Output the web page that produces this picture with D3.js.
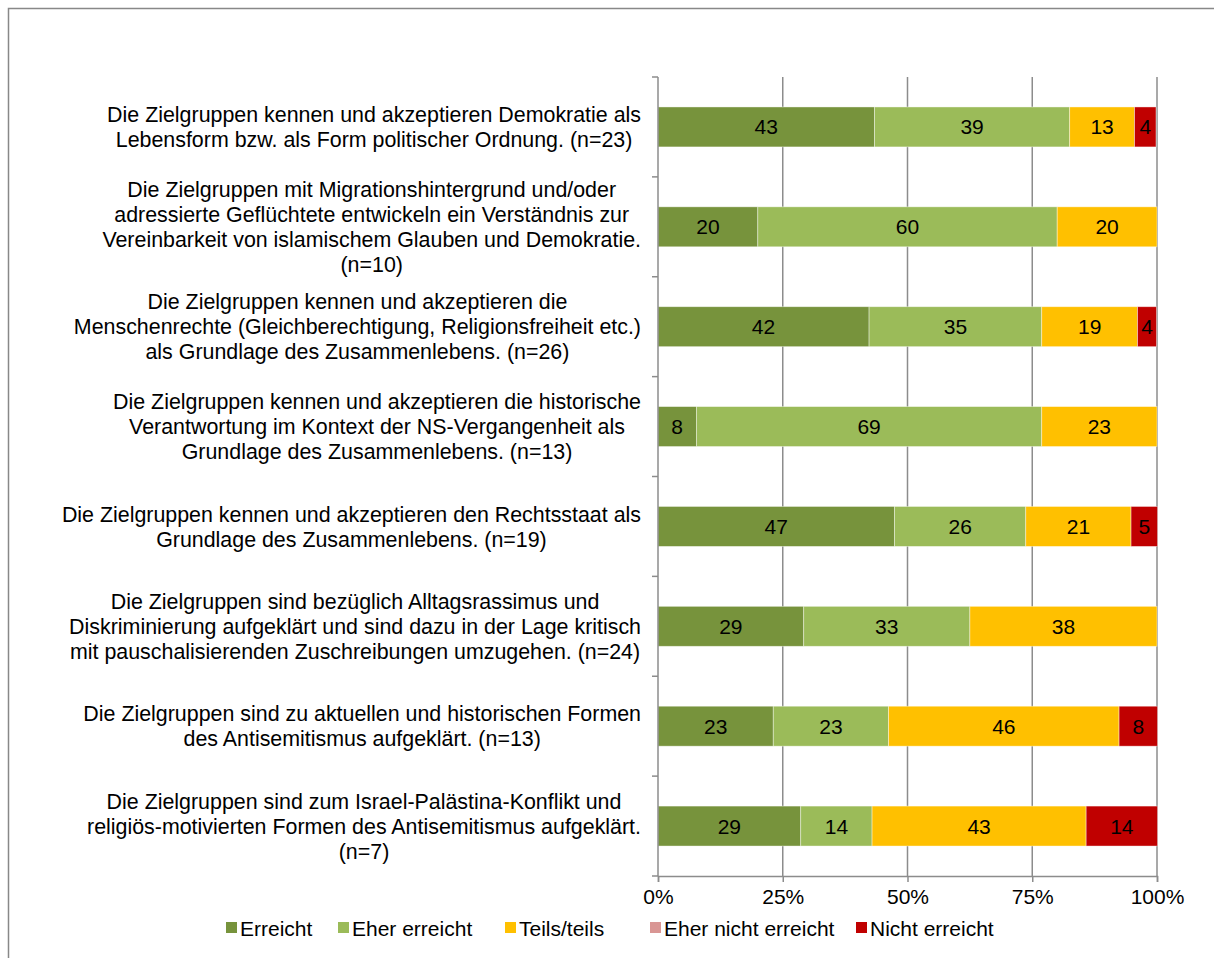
<!DOCTYPE html>
<html>
<head>
<meta charset="utf-8">
<script src="https://cdn.jsdelivr.net/npm/d3@7"></script>
<style>
  body { margin: 0; background: #fff; }
  svg { display: block; font-family: "Liberation Sans", Arial, sans-serif; }
</style>
</head>
<body>
<svg id="chart"></svg>
<script>
// Categories (label lines)
const categories = [
  ["Die Zielgruppen kennen und akzeptieren Demokratie als", "Lebensform bzw. als Form politischer Ordnung. (n=23)"],
  ["Die Zielgruppen mit Migrationshintergrund und/oder", "adressierte Geflüchtete entwickeln ein Verständnis zur", "Vereinbarkeit von islamischem Glauben und Demokratie.", "(n=10)"],
  ["Die Zielgruppen kennen und akzeptieren die", "Menschenrechte (Gleichberechtigung, Religionsfreiheit etc.)", "als Grundlage des Zusammenlebens. (n=26)"],
  ["Die Zielgruppen kennen und akzeptieren die historische", "Verantwortung im Kontext der NS-Vergangenheit als", "Grundlage des Zusammenlebens. (n=13)"],
  ["Die Zielgruppen kennen und akzeptieren den Rechtsstaat als", "Grundlage des Zusammenlebens. (n=19)"],
  ["Die Zielgruppen sind bezüglich Alltagsrassimus und", "Diskriminierung aufgeklärt und sind dazu in der Lage kritisch", "mit pauschalisierenden Zuschreibungen umzugehen. (n=24)"],
  ["Die Zielgruppen sind zu aktuellen und historischen Formen", "des Antisemitismus aufgeklärt. (n=13)"],
  ["Die Zielgruppen sind zum Israel-Palästina-Konflikt und", "religiös-motivierten Formen des Antisemitismus aufgeklärt.", "(n=7)"]
];

// Series values (percent)
const erreicht          = [43.4, 20, 42.3,  7.7, 47.4, 29.2, 23.1, 28.6];
const eherErreicht      = [39.1, 60, 34.6, 69.2, 26.3, 33.3, 23.1, 14.3];
const teilsTeils        = [13.0, 20, 19.2, 23.1, 21.1, 37.5, 46.2, 42.9];
const eherNichtErreicht = [0, 0, 0, 0, 0, 0, 0, 0];
const nichtErreicht     = [4.3, 0, 3.8, 0, 5.3, 0, 7.7, 14.3];

const seriesNames = ["Erreicht", "Eher erreicht", "Teils/teils", "Eher nicht erreicht", "Nicht erreicht"];
const seriesColors = ["#77933C", "#9BBB59", "#FFC000", "#D99694", "#C00000"];
const tickValues = [0, 25, 50, 75, 100];

const W = 1214, H = 958;
const x0 = 658, x1 = 1157, yTop = 77, yBot = 876;
const fs = 21;

const svg = d3.select("#chart").attr("width", W).attr("height", H);

// outer border
svg.append("rect")
  .attr("x", 8.5).attr("y", 8.5)
  .attr("width", W + 10).attr("height", H + 10)
  .attr("fill", "none").attr("stroke", "#888").attr("stroke-width", 1.5);

const rows = categories.map((c, i) => ({
  i, lines: c,
  vals: [erreicht[i], eherErreicht[i], teilsTeils[i], eherNichtErreicht[i], nichtErreicht[i]]
}));

const xScale = d3.scaleLinear().domain([0, 100]).range([x0, x1]);
const yScale = d3.scaleBand().domain(d3.range(categories.length)).range([yTop, yBot])
  .paddingInner(0.6).paddingOuter(0.3);

// gridlines
svg.append("g").selectAll("line")
  .data(tickValues.slice(1))
  .enter().append("line")
  .attr("x1", d => xScale(d)).attr("x2", d => xScale(d))
  .attr("y1", yTop).attr("y2", yBot)
  .attr("stroke", "#8c8c8c").attr("stroke-width", 1.5);

// stacked bars
const stack = d3.stack().keys(d3.range(5)).value((d, k) => d.vals[k]);
const layers = stack(rows);

const g = svg.append("g");
layers.forEach((layer, k) => {
  g.selectAll(".s" + k)
    .data(layer.filter(d => d[1] - d[0] > 0))
    .enter().append("rect")
    .attr("x", d => xScale(d[0]))
    .attr("width", d => xScale(d[1]) - xScale(d[0]))
    .attr("y", d => yScale(d.data.i))
    .attr("height", yScale.bandwidth())
    .attr("fill", seriesColors[k])
    .attr("stroke", "#fff").attr("stroke-opacity", 0.5).attr("stroke-width", 0.8);

  g.selectAll(".t" + k)
    .data(layer.filter(d => d[1] - d[0] > 0))
    .enter().append("text")
    .attr("x", d => xScale((d[0] + d[1]) / 2))
    .attr("y", d => yScale(d.data.i) + yScale.bandwidth() / 2)
    .attr("dy", "0.36em")
    .attr("text-anchor", "middle")
    .attr("font-size", fs)
    .attr("fill", "#000")
    .text(d => Math.round(d[1] - d[0]));
});

// left axis line + ticks
const band = (yBot - yTop) / categories.length;
svg.append("line")
  .attr("x1", x0).attr("x2", x0).attr("y1", yTop).attr("y2", yBot)
  .attr("stroke", "#8c8c8c").attr("stroke-width", 1.5);
svg.append("g").selectAll("line")
  .data(d3.range(categories.length + 1))
  .enter().append("line")
  .attr("x1", x0 - 6).attr("x2", x0)
  .attr("y1", d => yTop + d * band).attr("y2", d => yTop + d * band)
  .attr("stroke", "#8c8c8c").attr("stroke-width", 1.5);

// bottom axis
const xAxis = d3.axisBottom(xScale).tickValues(tickValues).tickFormat(d => d + "%").tickSize(6).tickPadding(7);
const ax = svg.append("g").attr("transform", `translate(0,${yBot})`).call(xAxis);
ax.selectAll("path, line").attr("stroke", "#8c8c8c").attr("stroke-width", 1.5);
ax.selectAll("text").attr("font-size", fs).attr("fill", "#000").attr("font-family", "Liberation Sans, Arial, sans-serif");

// category labels
const labelRight = 641, lineH = 25;
rows.forEach(r => {
  const t = svg.append("text")
    .attr("font-size", 21.4).attr("fill", "#000").attr("text-anchor", "middle");
  const spans = r.lines.map(l => t.append("tspan").text(l));
  const maxW = d3.max(spans, s => s.node().getComputedTextLength());
  const cx = labelRight - maxW / 2;
  const cy = yScale(r.i) + yScale.bandwidth() / 2;
  const n = r.lines.length;
  spans.forEach((s, j) => {
    s.attr("x", cx).attr("y", cy + (j - (n - 1) / 2) * lineH).attr("dy", "0.36em");
  });
});

// legend
const legendX = [226, 338, 505, 650, 856];
const legend = svg.append("g").attr("transform", "translate(0,928)");
seriesNames.forEach((name, k) => {
  const it = legend.append("g").attr("transform", `translate(${legendX[k]},0)`);
  it.append("rect").attr("x", 0).attr("y", -6).attr("width", 11).attr("height", 11).attr("fill", seriesColors[k]);
  it.append("text").attr("x", 14).attr("dy", "0.36em").attr("font-size", fs).attr("fill", "#000").text(name);
});
</script>
</body>
</html>
